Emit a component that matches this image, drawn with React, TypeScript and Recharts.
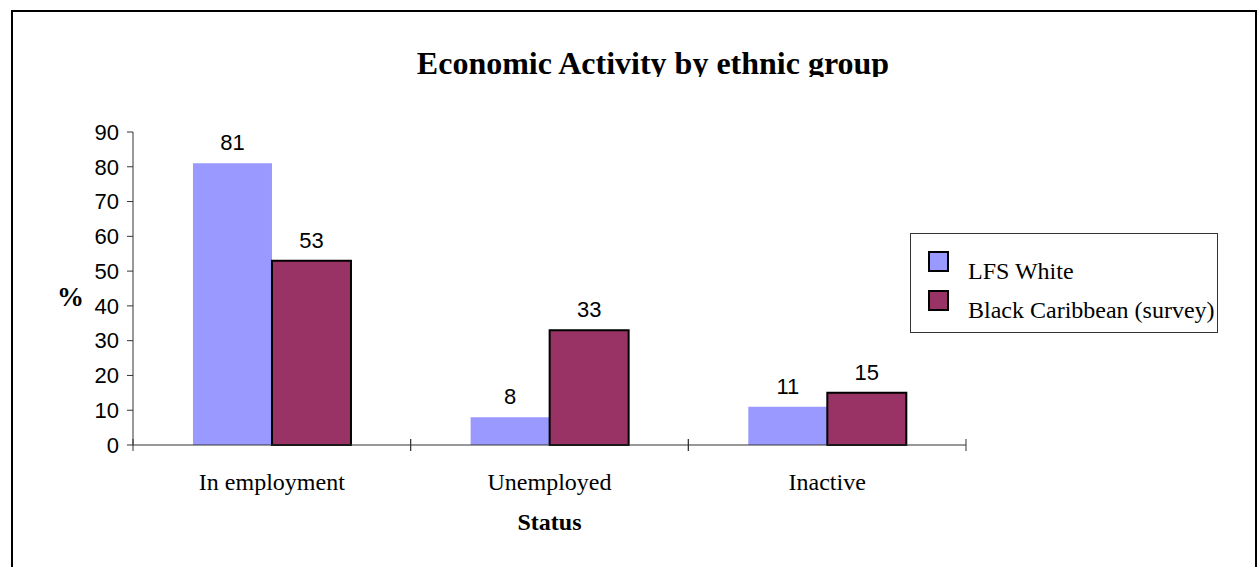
import React from 'react';
import {
  BarChart,
  Bar,
  XAxis,
  YAxis,
  Legend,
  LabelList,
} from 'recharts';

const categories = ['In employment', 'Unemployed', 'Inactive'];
const lfsWhite = [81, 8, 11];
const blackCaribbean = [53, 33, 15];
const yTicks = [0, 10, 20, 30, 40, 50, 60, 70, 80, 90];

const seriesNames = ['LFS White', 'Black Caribbean (survey)'];
const seriesColors = ['#9999FF', '#993366'];

const data = categories.map((name, i) => ({
  name,
  white: lfsWhite[i],
  caribbean: blackCaribbean[i],
}));

const sans = '"Liberation Sans", Arial, sans-serif';
const serif = '"Liberation Serif", "Times New Roman", serif';
const axisColor = '#333';

// category label plus tick marks on the band edges, crossing the axis line
const renderCategoryTick = (props: any) => {
  const { x, y, payload } = props;
  const half = payload && payload.offset ? payload.offset : 0;
  return (
    <g>
      {half > 0 && (
        <>
          <line x1={x - half} x2={x - half} y1={y - 6} y2={y + 6} stroke={axisColor} strokeWidth={1} />
          <line x1={x + half} x2={x + half} y1={y - 6} y2={y + 6} stroke={axisColor} strokeWidth={1} />
        </>
      )}
      <text
        x={x}
        y={y + 28}
        dy="0.71em"
        textAnchor="middle"
        fill="#000"
        fontFamily={serif}
        fontSize={24}
      >
        {payload.value}
      </text>
    </g>
  );
};

function LegendBox() {
  return (
    <div
      style={{
        position: 'relative',
        width: 308,
        height: 100,
        boxSizing: 'border-box',
        border: '1px solid #333',
        background: '#fff',
        fontFamily: serif,
        fontSize: 24,
        color: '#000',
      }}
    >
      {seriesNames.map((name, i) => (
        <React.Fragment key={name}>
          <div
            style={{
              position: 'absolute',
              left: 17,
              top: 17 + i * 39,
              width: 21,
              height: 21,
              boxSizing: 'border-box',
              border: '2px solid #000',
              background: seriesColors[i],
            }}
          />
          <span
            style={{
              position: 'absolute',
              left: 57,
              top: 25 + i * 39,
              lineHeight: '24px',
              whiteSpace: 'nowrap',
            }}
          >
            {name}
          </span>
        </React.Fragment>
      ))}
    </div>
  );
}

export default function App() {
  return (
    <div
      style={{
        position: 'absolute',
        left: 0,
        top: 0,
        width: 1259,
        height: 567,
        overflow: 'hidden',
        background: '#fff',
      }}
    >
      <div
        style={{
          position: 'absolute',
          left: 11,
          top: 10,
          width: 1246,
          height: 620,
          boxSizing: 'border-box',
          border: '2px solid #000',
          borderBottom: 'none',
        }}
      />
      <div
        style={{
          position: 'absolute',
          left: 153,
          top: 47,
          width: 1000,
          height: 30,
          overflow: 'hidden',
          textAlign: 'center',
          fontFamily: serif,
          fontWeight: 'bold',
          fontSize: 32,
          lineHeight: '32px',
          color: '#000',
        }}
      >
        Economic Activity by ethnic group
      </div>
      <div style={{ position: 'absolute', left: 0, top: 0 }}>
        <BarChart
          width={1259}
          height={567}
          data={data}
          margin={{ top: 132, right: 293, bottom: 32, left: 0 }}
          barCategoryGap="21.6%"
          barGap={0}
        >
          <XAxis
            dataKey="name"
            height={90}
            interval={0}
            axisLine={{ stroke: axisColor, strokeWidth: 1 }}
            tickLine={false}
            tickSize={0}
            tickMargin={0}
            tick={renderCategoryTick}
            label={{
              value: 'Status',
              position: 'insideBottom',
              offset: 5,
              fill: '#000',
              fontFamily: serif,
              fontSize: 24,
              fontWeight: 'bold',
            }}
          />
          <YAxis
            width={133}
            domain={[0, 90]}
            ticks={yTicks}
            interval={0}
            axisLine={{ stroke: axisColor, strokeWidth: 1 }}
            tickLine={{ stroke: axisColor, strokeWidth: 1 }}
            tickSize={6}
            tickMargin={8}
            tick={{ fill: '#000', fontFamily: sans, fontSize: 22 }}
            label={{
              value: '%',
              position: 'insideLeft',
              offset: 57,
              dy: 8,
              fill: '#000',
              fontFamily: serif,
              fontSize: 27,
              fontWeight: 'bold',
            }}
          />
          <Legend
            layout="horizontal"
            align="center"
            verticalAlign="middle"
            wrapperStyle={{ left: 910, top: 233, width: 308, height: 100 }}
            content={<LegendBox />}
          />
          <Bar dataKey="white" name={seriesNames[0]} fill={seriesColors[0]} isAnimationActive={false}>
            <LabelList
              dataKey="white"
              position="top"
              offset={13}
              fill="#000"
              fontFamily={sans}
              fontSize={22}
            />
          </Bar>
          <Bar
            dataKey="caribbean"
            name={seriesNames[1]}
            fill={seriesColors[1]}
            stroke="#000"
            strokeWidth={2}
            isAnimationActive={false}
          >
            <LabelList
              dataKey="caribbean"
              position="top"
              offset={13}
              fill="#000"
              fontFamily={sans}
              fontSize={22}
            />
          </Bar>
        </BarChart>
      </div>
    </div>
  );
}
